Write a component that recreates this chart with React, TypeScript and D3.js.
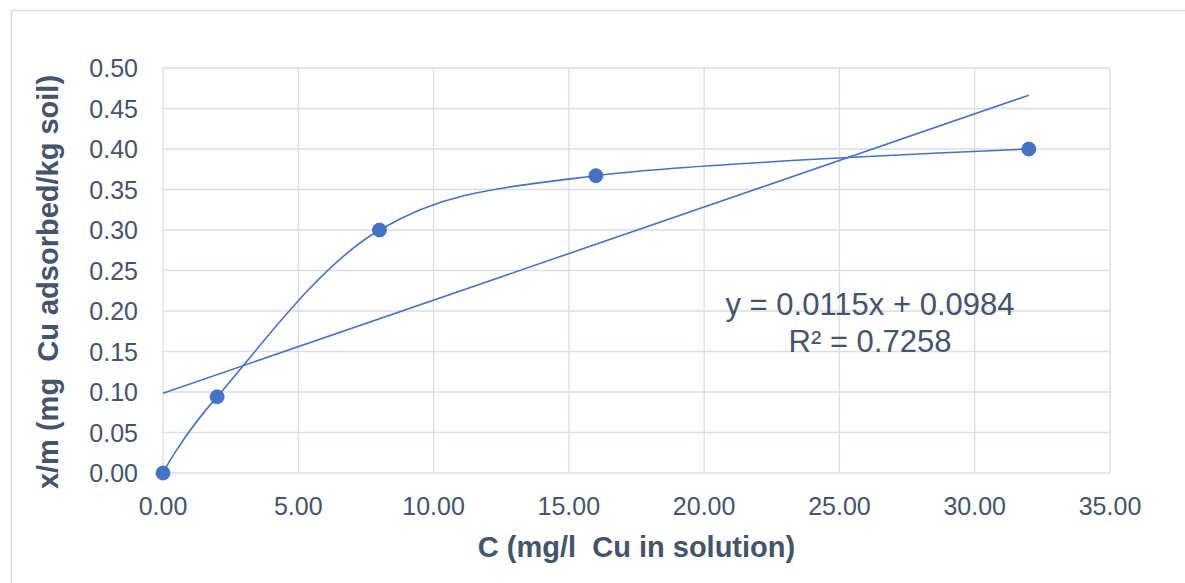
import * as d3 from 'd3';
import { useEffect, useRef } from 'react';

const WIDTH = 1185;
const HEIGHT = 583;

// measured series
const concentration = [0, 2, 8, 16, 32];
const adsorbed = [0, 0.094, 0.3, 0.367, 0.4];

// linear trendline reported by the chart
const SLOPE = 0.0115;
const INTERCEPT = 0.0984;
const EQUATION_LINES = ['y = 0.0115x + 0.0984', 'R² = 0.7258'];

const xTicks = [0, 5, 10, 15, 20, 25, 30, 35];
const yTicks = [0, 0.05, 0.1, 0.15, 0.2, 0.25, 0.3, 0.35, 0.4, 0.45, 0.5];

const X_LABEL = 'C (mg/l  Cu in solution)';
const Y_LABEL = 'x/m (mg  Cu adsorbed/kg soil)';

const MARGIN = { left: 163, right: 75, top: 68, bottom: 110 };
const BLUE = '#4472C4';
const TEXT = '#44546A';
const GRID = '#dadde5';
const FONT = '"Liberation Sans", Arial, sans-serif';

const App: React.FC = () => {
    const svgRef = useRef<SVGSVGElement>(null);

    useEffect(() => {
        if (!svgRef.current) return;
        const svg = d3.select(svgRef.current);
        svg.selectAll('*').remove();

        const x = d3.scaleLinear().domain([0, 35]).range([MARGIN.left, WIDTH - MARGIN.right]);
        const y = d3.scaleLinear().domain([0, 0.5]).range([HEIGHT - MARGIN.bottom, MARGIN.top]);

        // chart area border
        svg.append('rect')
            .attr('x', 11.5)
            .attr('y', 10.5)
            .attr('width', WIDTH)
            .attr('height', HEIGHT)
            .attr('fill', 'white')
            .attr('stroke', '#d9d9d9')
            .attr('stroke-width', 1.5);

        // grid
        const grid = svg.append('g');
        grid.selectAll('line.h')
            .data(yTicks)
            .enter()
            .append('line')
            .attr('x1', x(0))
            .attr('x2', x(35))
            .attr('y1', (d) => y(d))
            .attr('y2', (d) => y(d))
            .attr('stroke', GRID)
            .attr('stroke-width', 1.3);
        grid.selectAll('line.v')
            .data(xTicks)
            .enter()
            .append('line')
            .attr('x1', (d) => x(d))
            .attr('x2', (d) => x(d))
            .attr('y1', y(0))
            .attr('y2', y(0.5))
            .attr('stroke', GRID)
            .attr('stroke-width', 1.3);

        // y tick labels
        svg.append('g')
            .selectAll('text')
            .data(yTicks)
            .enter()
            .append('text')
            .attr('x', x(0) - 25)
            .attr('y', (d) => y(d))
            .attr('dy', '0.36em')
            .attr('text-anchor', 'end')
            .attr('fill', TEXT)
            .style('font-family', FONT)
            .style('font-size', '25px')
            .text((d) => d.toFixed(2));

        // x tick labels
        svg.append('g')
            .selectAll('text')
            .data(xTicks)
            .enter()
            .append('text')
            .attr('x', (d) => x(d))
            .attr('y', 515)
            .attr('text-anchor', 'middle')
            .attr('fill', TEXT)
            .style('font-family', FONT)
            .style('font-size', '25px')
            .text((d) => d.toFixed(2));

        // axis titles
        svg.append('text')
            .attr('x', (x(0) + x(35)) / 2)
            .attr('y', 557)
            .attr('text-anchor', 'middle')
            .attr('fill', TEXT)
            .style('font-family', FONT)
            .style('font-size', '29px')
            .style('font-weight', 'bold')
            .style('white-space', 'pre')
            .text(X_LABEL);

        svg.append('text')
            .attr('transform', `translate(58,${282}) rotate(-90)`)
            .attr('text-anchor', 'middle')
            .attr('fill', TEXT)
            .style('font-family', FONT)
            .style('font-size', '29px')
            .style('font-weight', 'bold')
            .style('white-space', 'pre')
            .text(Y_LABEL);

        const points = concentration.map((c, i) => [c, adsorbed[i]] as [number, number]);

        // linear trendline
        const xMax = d3.max(concentration)!;
        svg.append('line')
            .attr('x1', x(0))
            .attr('y1', y(INTERCEPT))
            .attr('x2', x(xMax))
            .attr('y2', y(SLOPE * xMax + INTERCEPT))
            .attr('stroke', BLUE)
            .attr('stroke-width', 1.6);

        // smoothed series line
        const line = d3
            .line<[number, number]>()
            .x((d) => x(d[0]))
            .y((d) => y(d[1]))
            .curve(d3.curveCardinal.tension(0));
        svg.append('path')
            .attr('d', line(points)!)
            .attr('fill', 'none')
            .attr('stroke', BLUE)
            .attr('stroke-width', 1.6);

        svg.append('g')
            .selectAll('circle')
            .data(points)
            .enter()
            .append('circle')
            .attr('cx', (d) => x(d[0]))
            .attr('cy', (d) => y(d[1]))
            .attr('r', 7)
            .attr('fill', BLUE)
            .attr('stroke', '#3a66b8')
            .attr('stroke-width', 0.8);

        // equation label
        svg.append('g')
            .selectAll('text')
            .data(EQUATION_LINES)
            .enter()
            .append('text')
            .attr('x', 870)
            .attr('y', (_d, i) => 315 + i * 37)
            .attr('text-anchor', 'middle')
            .attr('fill', TEXT)
            .style('font-family', FONT)
            .style('font-size', '31px')
            .text((d) => d);
    }, []);

    return (
        <svg
            ref={svgRef}
            width={WIDTH}
            height={HEIGHT}
            style={{ position: 'absolute', left: 0, top: 0, background: 'white' }}
        ></svg>
    );
};

export default App;
